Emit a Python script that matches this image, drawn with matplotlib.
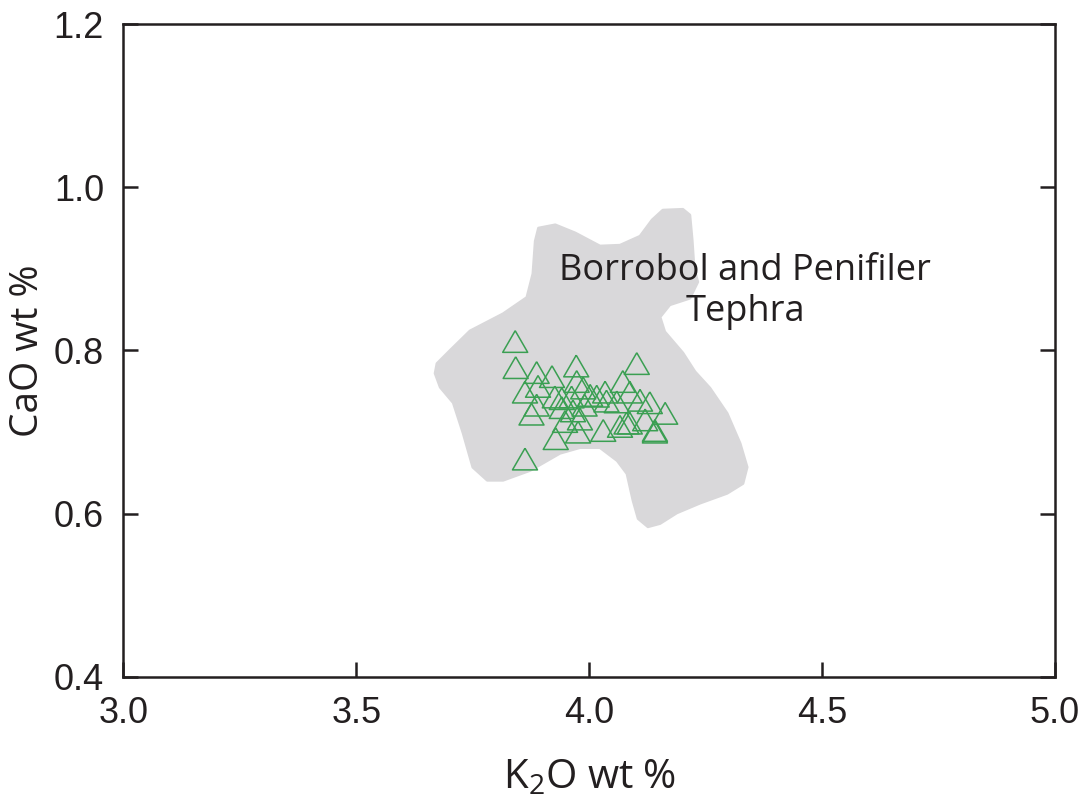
import matplotlib

matplotlib.use("Agg")
import matplotlib.pyplot as plt
from matplotlib.patches import Polygon

# K2O / CaO (wt %) of the glass shards
k2o = [3.841, 3.842, 3.887, 3.920, 3.972, 4.102, 3.862, 3.890, 3.876, 3.862,
       3.928, 3.976, 4.030, 4.080, 4.141, 4.163, 4.130, 4.109, 4.072, 4.034,
       4.087, 4.059, 3.973, 3.987, 3.962, 3.941, 3.926, 4.002, 4.016, 3.965,
       3.980, 3.948, 3.941, 4.037, 4.087, 4.066, 4.141, 3.887, 3.990, 4.120]
cao = [0.811, 0.779, 0.773, 0.768, 0.781, 0.784, 0.749, 0.756, 0.722, 0.667,
       0.692, 0.700, 0.702, 0.711, 0.702, 0.723, 0.736, 0.739, 0.762, 0.749,
       0.749, 0.737, 0.762, 0.754, 0.743, 0.741, 0.743, 0.745, 0.744, 0.726,
       0.716, 0.713, 0.730, 0.738, 0.711, 0.707, 0.700, 0.733, 0.733, 0.715]

# outline of the Borrobol / Penifiler reference field (K2O, CaO)
field_k2o = [3.891, 3.927, 3.970, 4.023, 4.066, 4.109, 4.135, 4.158, 4.201, 4.216,
             4.221, 4.225, 4.233, 4.216, 4.173, 4.152, 4.162, 4.201, 4.227, 4.259,
             4.296, 4.324, 4.339, 4.330, 4.296, 4.238, 4.188, 4.152, 4.126, 4.105,
             4.094, 4.081, 4.060, 4.023, 3.980, 3.937, 3.873, 3.815, 3.781, 3.750,
             3.729, 3.708, 3.680, 3.669, 3.673, 3.701, 3.744, 3.815, 3.866, 3.879,
             3.884]
field_cao = [0.950, 0.954, 0.944, 0.928, 0.929, 0.940, 0.960, 0.972, 0.973, 0.966,
             0.935, 0.901, 0.884, 0.864, 0.856, 0.841, 0.823, 0.797, 0.774, 0.754,
             0.723, 0.686, 0.657, 0.637, 0.625, 0.613, 0.601, 0.588, 0.584, 0.594,
             0.616, 0.649, 0.665, 0.681, 0.681, 0.674, 0.653, 0.641, 0.641, 0.657,
             0.699, 0.736, 0.755, 0.772, 0.784, 0.800, 0.824, 0.845, 0.865, 0.894,
             0.934]

field_label = "Borrobol and Penifiler\nTephra"
xticks = [3.0, 3.5, 4.0, 4.5, 5.0]
yticks = [0.4, 0.6, 0.8, 1.0, 1.2]

plt.rcParams["mathtext.fontset"] = "custom"
plt.rcParams["mathtext.rm"] = "Open Sans"

ink = "#231f20"
fig = plt.figure(figsize=(10.89, 8.09), dpi=100)
ax = fig.add_axes([0.1134, 0.1632, 0.8554, 0.8071])

ax.add_patch(Polygon(list(zip(field_k2o, field_cao)), closed=True,
                     facecolor="#d9d8da", edgecolor="#d9d8da", lw=2, joinstyle="round", zorder=1))
ax.text(4.335, 0.872, field_label, ha="center", va="center", fontsize=26,
        family="Open Sans", color=ink, linespacing=1.2, zorder=3)

tri = [(0, 0.866), (-1, -0.866), (1, -0.866), (0, 0.866)]
ax.scatter(k2o, cao, marker=tri, s=18 ** 2, facecolors="none",
           edgecolors="#3a9f52", linewidths=1.1, zorder=2)

ax.set_xlim(3.0, 5.0)
ax.set_ylim(0.4, 1.2)
ax.set_xticks(xticks)
ax.set_yticks(yticks)
ax.set_xticklabels([f"{v:.1f}" for v in xticks], family="Liberation Sans", fontsize=26)
ax.set_yticklabels([f"{v:.1f}" for v in yticks], family="Liberation Sans", fontsize=26)
ax.tick_params(direction="in", length=11, width=1.8, color=ink, labelcolor=ink,
               right=True, top=False, pad=14)
for s in ax.spines.values():
    s.set_linewidth(1.8)
    s.set_color(ink)

ax.set_xlabel(r"K$_\mathregular{2}$O wt %", family="Open Sans", fontsize=29, color=ink, labelpad=19)
ax.set_ylabel("CaO wt %", family="Open Sans", fontsize=28, color=ink, va="center")
ax.yaxis.set_label_coords(-0.103, 0.5)

fig.savefig("out.png", dpi=100)
